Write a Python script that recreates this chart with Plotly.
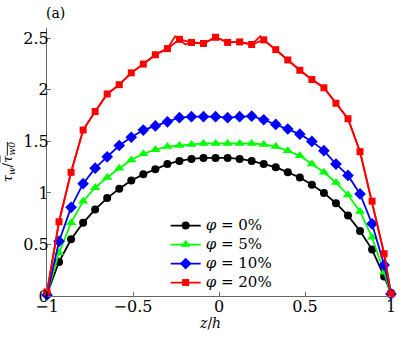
import plotly.graph_objects as go

# ---------------- data ----------------
z = [-1.00, -0.93, -0.86, -0.79, -0.72, -0.65, -0.58, -0.51, -0.44, -0.37,
     -0.30, -0.23, -0.16, -0.09, -0.02, 0.05, 0.12, 0.19, 0.26, 0.33,
     0.40, 0.47, 0.54, 0.61, 0.68, 0.75, 0.82, 0.89, 0.96, 1.00]

phi0 = [0.02, 0.33, 0.55, 0.71, 0.84, 0.95, 1.04, 1.12, 1.18, 1.23,
        1.28, 1.31, 1.33, 1.34, 1.34, 1.34, 1.33, 1.31, 1.28, 1.25,
        1.20, 1.15, 1.08, 1.00, 0.90, 0.78, 0.63, 0.45, 0.19, 0.03]

phi5 = [0.02, 0.42, 0.71, 0.92, 1.05, 1.15, 1.24, 1.32, 1.38, 1.42,
        1.45, 1.46, 1.47, 1.48, 1.48, 1.48, 1.48, 1.48, 1.47, 1.45,
        1.41, 1.36, 1.28, 1.20, 1.10, 0.98, 0.82, 0.57, 0.23, 0.02]

phi10 = [0.01, 0.53, 0.86, 1.09, 1.24, 1.35, 1.46, 1.54, 1.61, 1.65,
         1.69, 1.73, 1.74, 1.74, 1.74, 1.73, 1.74, 1.745, 1.71, 1.665,
         1.62, 1.57, 1.50, 1.41, 1.28, 1.17, 0.99, 0.70, 0.30, 0.02]

phi20 = [0.04, 0.72, 1.20, 1.61, 1.79, 1.96, 2.05, 2.165, 2.25, 2.34,
         2.40, 2.49, 2.46, 2.45, 2.51, 2.46, 2.465, 2.44, 2.485, 2.39,
         2.29, 2.19, 2.10, 2.02, 1.87, 1.72, 1.40, 0.92, 0.41, 0.02]

# the red line passes through a few extra (unmarked) points near the top
phi20_line_z = [-0.255, -0.195, 0.24]
phi20_line_y = [2.52, 2.44, 2.52]

labels = ["<i>φ</i> = 0%", "<i>φ</i> = 5%", "<i>φ</i> = 10%", "<i>φ</i> = 20%"]
x_ticks = [-1, -0.5, 0, 0.5, 1]
x_ticklabels = ["\u22121", "\u22120.5", "0", "0.5", "1"]
y_ticks = [0, 0.5, 1, 1.5, 2, 2.5]
y_ticklabels = ["0", "0.5", "1", "1.5", "2", "2.5"]

# ---------------- figure ----------------
FONT = "DejaVu Serif"
fig = go.Figure()

# red line including extra unmarked points (drawn underneath)
rl = sorted(list(zip(z, phi20)) + list(zip(phi20_line_z, phi20_line_y)))
fig.add_trace(go.Scatter(x=[p[0] for p in rl], y=[p[1] for p in rl], mode="lines",
                         line=dict(color="#ff0000", width=1.8), showlegend=False,
                         cliponaxis=False, hoverinfo="skip"))

series = [
    (phi0, "#000000", "circle", 8),
    (phi5, "#00ff00", "triangle-up", 9),
    (phi10, "#0000ff", "diamond", 9),
    (phi20, "#ff0000", "square", 7),
]
for (vals, col, sym, sz), lab in zip(series, labels):
    fig.add_trace(go.Scatter(
        x=z, y=vals, mode="lines+markers",
        name="<span style='font-size:15px'>" + lab + "</span>",
        line=dict(color=col, width=1.8),
        marker=dict(symbol=sym, size=sz, color=col, line=dict(width=0)),
        cliponaxis=False,
    ))

fig.update_layout(
    width=411, height=337,
    margin=dict(l=47, r=20, t=28, b=41, autoexpand=False),
    paper_bgcolor="white", plot_bgcolor="white",
    font=dict(family=FONT, size=16, color="black"),
    showlegend=True,
    legend=dict(x=0.345, y=0.317, xanchor="left", yanchor="top",
                bgcolor="rgba(0,0,0,0)", borderwidth=0,
                font=dict(family=FONT, size=12, color="black"),
                itemwidth=30, tracegroupgap=0),
    xaxis=dict(range=[-1, 1], tickvals=x_ticks, ticktext=x_ticklabels,
               ticks="inside", ticklen=4, tickcolor="#666",
               showline=True, linecolor="#666", linewidth=1,
               showgrid=False, zeroline=False, automargin=False,
               ticklabelstandoff=-4,
               tickfont=dict(family=FONT, size=16, color="black")),
    yaxis=dict(range=[0, 2.6], tickvals=y_ticks, ticktext=y_ticklabels,
               ticks="inside", ticklen=4, tickcolor="#666",
               showline=True, linecolor="#666", linewidth=1,
               showgrid=False, zeroline=False, automargin=False,
               ticklabelstandoff=-6,
               tickfont=dict(family=FONT, size=16, color="black")),
    annotations=[
        dict(text="(a)", xref="paper", yref="paper", x=0.026, y=1.056,
             xanchor="center", yanchor="middle", showarrow=False,
             font=dict(family=FONT, size=14, color="black")),
        dict(text="<i>z</i>/<i>h</i>", xref="paper", yref="paper", x=0.474, y=-0.10,
             xanchor="center", yanchor="middle", showarrow=False,
             font=dict(family=FONT, size=14, color="black")),
        dict(text="<i>τ<sub>w</sub></i>/<span style='text-decoration:overline'><i>τ<sub>w0</sub></i></span>",
             xref="paper", yref="paper", x=-0.113, y=0.5, textangle=-90,
             xanchor="center", yanchor="middle", showarrow=False,
             font=dict(family=FONT, size=13, color="black")),
    ],
)

fig.write_html("out.html", config={"displayModeBar": False},
               post_script="document.body.style.margin='0';")
